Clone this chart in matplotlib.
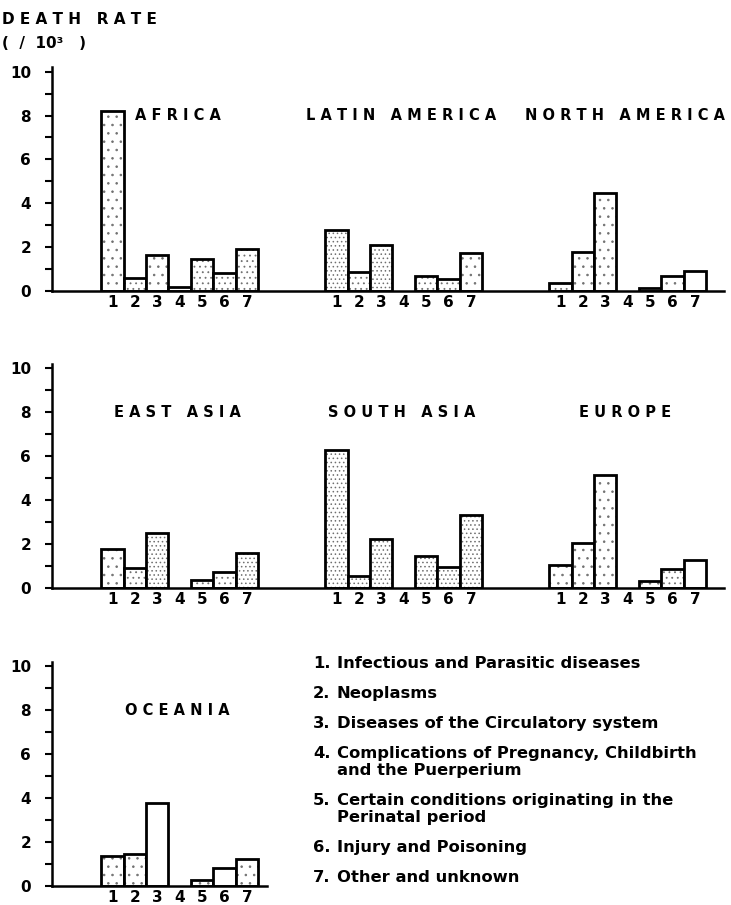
import matplotlib
matplotlib.use('Agg')
import matplotlib.pyplot as plt
import numpy as np

plt.rcParams['font.family'] = ['DejaVu Sans']
plt.rcParams['font.weight'] = 'bold'
plt.rcParams['hatch.linewidth'] = 0.6

# 死亡率数据 (每千人) 各地区 7 类死因
causes = ['1', '2', '3', '4', '5', '6', '7']
africa = [8.2, 0.6, 1.65, 0.2, 1.45, 0.8, 1.9]
latin_america = [2.8, 0.85, 2.1, 0.0, 0.7, 0.55, 1.75]
north_america = [0.35, 1.8, 4.45, 0.0, 0.15, 0.7, 0.9]
east_asia = [1.75, 0.9, 2.5, 0.0, 0.35, 0.7, 1.6]
south_asia = [6.3, 0.55, 2.2, 0.0, 1.45, 0.95, 3.3]
europe = [1.05, 2.05, 5.15, 0.0, 0.3, 0.85, 1.25]
oceania = [1.35, 1.45, 3.75, 0.0, 0.25, 0.8, 1.2]

legend_items = ['Infectious and Parasitic diseases',
                'Neoplasms',
                'Diseases of the Circulatory system',
                'Complications of Pregnancy, Childbirth\nand the Puerperium',
                'Certain conditions originating in the\nPerinatal period',
                'Injury and Poisoning',
                'Other and unknown']

# 点状填充的疏密 (样式)
dots = {'AFRICA': [1, 2, 1, 1, 2, 2, 2],
        'LATIN AMERICA': [3, 2, 3, 0, 2, 2, 1],
        'NORTH AMERICA': [2, 1, 1, 1, 1, 1, 0],
        'EAST ASIA': [1, 2, 3, 0, 2, 2, 3],
        'SOUTH ASIA': [3, 3, 3, 0, 3, 3, 3],
        'EUROPE': [1, 1, 1, 0, 1, 2, 0],
        'OCEANIA': [1, 1, 0, 0, 1, 0, 1]}
hatches = {0: '', 1: '..', 2: '...', 3: '....'}

W, H = 731, 905
fig = plt.figure(figsize=(W / 100, H / 100), dpi=100)

unit = 22.4     # 每根柱子的像素宽度
yscale = 21.93  # 每单位 y 的像素


def spaced(s):
    # 字母间加空格, 模拟原图的字距
    return ' '.join(s)


def add_row(y0, nunits):
    top = 10.2
    ax = fig.add_axes([52 / W, (H - y0) / H, nunits * unit / W, top * yscale / H])
    ax.set_xlim(0, nunits)
    ax.set_ylim(0, top)
    for s in ['top', 'right']:
        ax.spines[s].set_visible(False)
    ax.spines['left'].set_linewidth(1.8)
    ax.spines['bottom'].set_linewidth(1.8)
    ax.set_yticks(np.arange(0, 11, 2))
    ax.set_yticks(np.arange(0, 11, 1), minor=True)
    ax.tick_params(axis='y', which='both', direction='out', length=5, width=1.5, pad=10, labelsize=11)
    ax.tick_params(axis='x', length=0, pad=3, labelsize=11)
    ax.patch.set_alpha(0)
    return ax


def draw_group(ax, g, name, vals):
    x = 10 * g + 1.7 + np.arange(1, 8)
    for xi, v, d in zip(x, vals, dots[name]):
        if v <= 0:
            continue
        ax.bar(xi, v, width=1, color='white', hatch=hatches[d], edgecolor='#707070', linewidth=0)
        ax.bar(xi, v, width=1, fill=False, edgecolor='black', linewidth=2.0)
    ax.text(10 * g + 5.6, 8.0, spaced(name), ha='center', va='center', fontsize=10.5)
    return list(x)


rows = [(291, 30, [('AFRICA', africa), ('LATIN AMERICA', latin_america), ('NORTH AMERICA', north_america)]),
        (587.7, 30, [('EAST ASIA', east_asia), ('SOUTH ASIA', south_asia), ('EUROPE', europe)]),
        (885.7, 9.6, [('OCEANIA', oceania)])]

for y0, n, groups in rows:
    ax = add_row(y0, n)
    ticks, labels = [], []
    for g, (name, vals) in enumerate(groups):
        ticks += draw_group(ax, g, name, vals)
        labels += causes
    ax.set_xticks(ticks)
    ax.set_xticklabels(labels)

# y 轴标题
fig.text(2 / W, 1 - 20 / H, spaced('DEATH RATE'), ha='left', va='center', fontsize=11)
fig.text(2 / W, 1 - 43 / H, '(  /  10³   )', ha='left', va='center', fontsize=11)

# 图例文字
y = 663
for i, item in enumerate(legend_items):
    lines = item.split('\n')
    fig.text(313 / W, 1 - y / H, '%d.' % (i + 1), ha='left', va='center', fontsize=11.8)
    for k, line in enumerate(lines):
        fig.text(337 / W, 1 - (y + 17 * k) / H, line, ha='left', va='center', fontsize=11.8)
    y += 30 + 17 * (len(lines) - 1)

fig.savefig('out.png', dpi=100)
